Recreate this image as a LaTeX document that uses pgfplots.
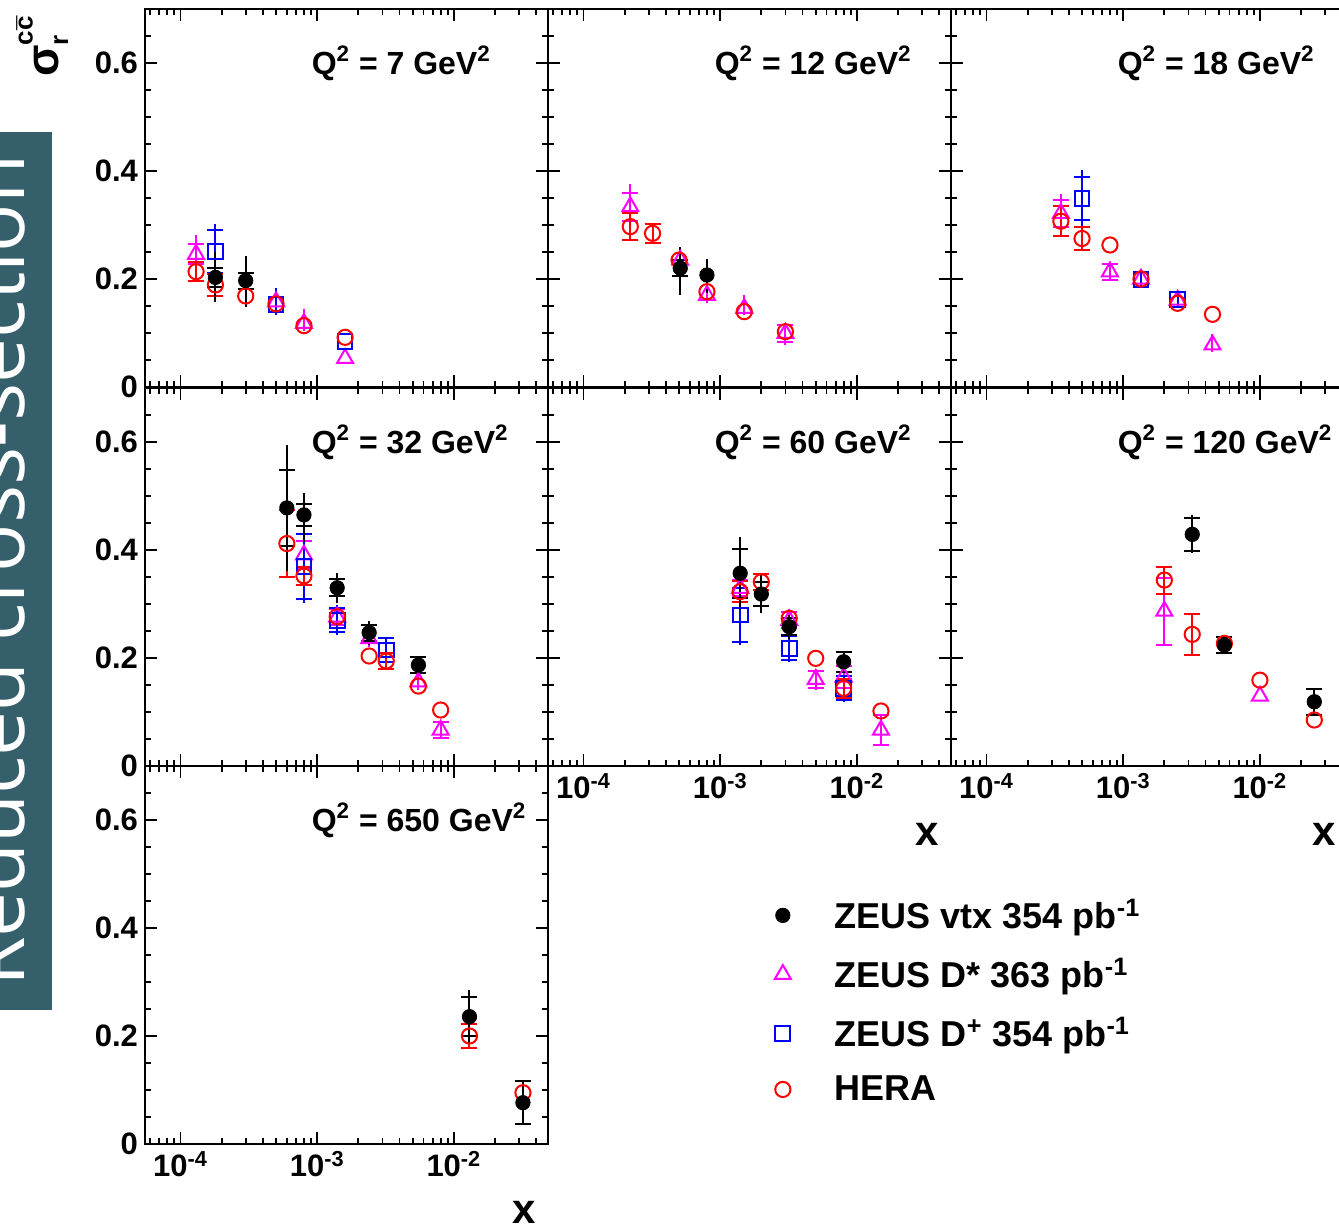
\documentclass[border=0pt]{standalone}
\usepackage{fontspec}
\setmainfont{Liberation Sans}
\newfontfamily\boxfont{Open Sans}
\usepackage{pgfplots}
\usepackage{pgfplotstable}
\pgfplotsset{compat=1.18}
\definecolor{boxteal}{HTML}{365F6C}
\definecolor{dmag}{HTML}{FF00FF}
\definecolor{dblue}{HTML}{0000FF}
\definecolor{hred}{HTML}{FF0000}

% ---------------- data: x  y  total+  total-  stat ----------------
\pgfplotstableread{
x y tp tm s
1.8e-4 0.203 0.047 0.045 0.017
3.0e-4 0.197 0.046 0.048 0.015
}\vtxA
\pgfplotstableread{
x y tp tm s
1.3e-4 0.246 0.035 0.035 0.018
5.0e-4 0.158 0.025 0.020 0.010
8.0e-4 0.118 0.026 0.015 0.010
1.6e-3 0.053 0.012 0.010 0.006
}\dstA
\pgfplotstableread{
x y tp tm s
1.8e-4 0.251 0.051 0.051 0.039
5.0e-4 0.153 0.030 0.020 0.012
1.6e-3 0.084 0.012 0.012 0.008
}\dplA
\pgfplotstableread{
x y tp tm s
1.3e-4 0.2135 0.018 0.018 0.018
1.8e-4 0.189 0.020 0.020 0.020
3.0e-4 0.1685 0.012 0.012 0.012
5.0e-4 0.154 0.010 0.010 0.010
8.0e-4 0.1136 0.008 0.008 0.008
1.6e-3 0.092 0.006 0.006 0.006
}\heraA

\pgfplotstableread{
x y tp tm s
5.1e-4 0.220 0.039 0.050 0.015
8.0e-4 0.2074 0.029 0.034 0.009
}\vtxB
\pgfplotstableread{
x y tp tm s
2.2e-4 0.334 0.042 0.042 0.026
5.1e-4 0.235 0.020 0.020 0.012
8.0e-4 0.170 0.015 0.015 0.008
1.5e-3 0.1457 0.024 0.012 0.010
3.0e-3 0.0994 0.016 0.021 0.016
}\dstB
\pgfplotstableread{
x y tp tm s
2.2e-4 0.297 0.025 0.025 0.025
3.2e-4 0.2846 0.018 0.018 0.018
5.0e-4 0.235 0.012 0.012 0.012
8.0e-4 0.1765 0.010 0.010 0.010
1.5e-3 0.1395 0.008 0.008 0.008
3.0e-3 0.1025 0.008 0.008 0.008
}\heraB

\pgfplotstableread{
x y tp tm s
3.5e-4 0.3216 0.036 0.036 0.025
8.0e-4 0.2136 0.015 0.015 0.015
1.35e-3 0.200 0.015 0.015 0.010
2.5e-3 0.161 0.015 0.015 0.010
4.5e-3 0.078 0.021 0.014 0.014
}\dstC
\pgfplotstableread{
x y tp tm s
5.0e-4 0.349 0.052 0.052 0.040
1.35e-3 0.1994 0.015 0.015 0.008
2.5e-3 0.162 0.015 0.015 0.008
}\dplC
\pgfplotstableread{
x y tp tm s
3.5e-4 0.307 0.028 0.028 0.028
5.0e-4 0.275 0.021 0.021 0.021
8.0e-4 0.263 0.006 0.006 0.006
1.35e-3 0.200 0.006 0.006 0.006
2.5e-3 0.155 0.006 0.006 0.006
4.5e-3 0.1346 0.005 0.005 0.005
}\heraC

\pgfplotstableread{
x y tp tm s
6.0e-4 0.478 0.116 0.116 0.070
8.0e-4 0.465 0.041 0.050 0.020
1.4e-3 0.330 0.028 0.028 0.016
2.4e-3 0.247 0.022 0.022 0.015
5.5e-3 0.187 0.016 0.016 0.015
}\vtxD
\pgfplotstableread{
x y tp tm s
8.0e-4 0.391 0.040 0.040 0.026
1.4e-3 0.276 0.020 0.020 0.015
2.4e-3 0.236 0.015 0.015 0.012
5.5e-3 0.156 0.015 0.015 0.010
8.0e-3 0.0667 0.015 0.015 0.015
}\dstD
\pgfplotstableread{
x y tp tm s
8.0e-4 0.369 0.065 0.068 0.060
1.4e-3 0.270 0.028 0.028 0.022
3.2e-3 0.2148 0.025 0.032 0.022
}\dplD
\pgfplotstableread{
x y tp tm s
6.0e-4 0.412 0.062 0.062 0.062
8.0e-4 0.352 0.016 0.016 0.016
1.4e-3 0.2765 0.012 0.012 0.012
2.4e-3 0.2037 0.008 0.008 0.008
3.2e-3 0.1944 0.015 0.015 0.015
5.5e-3 0.148 0.008 0.008 0.008
8.0e-3 0.1037 0.007 0.007 0.007
}\heraD

\pgfplotstableread{
x y tp tm s
1.4e-3 0.357 0.068 0.068 0.045
2.0e-3 0.3185 0.035 0.035 0.023
3.2e-3 0.258 0.022 0.022 0.016
8.0e-3 0.193 0.020 0.020 0.018
}\vtxE
\pgfplotstableread{
x y tp tm s
1.4e-3 0.329 0.020 0.020 0.015
3.2e-3 0.270 0.020 0.020 0.015
5.0e-3 0.1605 0.020 0.020 0.016
8.0e-3 0.165 0.025 0.025 0.020
1.5e-2 0.0667 0.027 0.027 0.027
}\dstE
\pgfplotstableread{
x y tp tm s
1.4e-3 0.2796 0.050 0.056 0.050
3.2e-3 0.218 0.025 0.025 0.022
8.0e-3 0.1438 0.025 0.025 0.022
}\dplE
\pgfplotstableread{
x y tp tm s
1.4e-3 0.3228 0.019 0.019 0.019
2.0e-3 0.341 0.015 0.015 0.015
3.2e-3 0.2735 0.010 0.010 0.010
5.0e-3 0.1994 0.006 0.006 0.006
8.0e-3 0.1438 0.018 0.018 0.018
1.5e-2 0.1019 0.006 0.006 0.006
}\heraE

\pgfplotstableread{
x y tp tm s
3.2e-3 0.429 0.035 0.035 0.030
5.5e-3 0.224 0.015 0.015 0.015
2.5e-2 0.119 0.025 0.025 0.024
}\vtxF
\pgfplotstableread{
x y tp tm s
2.0e-3 0.287 0.062 0.062 0.062
1.0e-2 0.1296 0.012 0.012 0.012
}\dstF
\pgfplotstableread{
x y tp tm s
2.0e-3 0.3444 0.025 0.025 0.025
3.2e-3 0.2438 0.038 0.038 0.038
5.5e-3 0.227 0.008 0.008 0.008
1.0e-2 0.159 0.006 0.006 0.006
2.5e-2 0.0852 0.005 0.005 0.005
}\heraF

\pgfplotstableread{
x y tp tm s
1.3e-2 0.2358 0.050 0.050 0.036
3.2e-2 0.0765 0.042 0.042 0.040
}\vtxG
\pgfplotstableread{
x y tp tm s
1.3e-2 0.200 0.023 0.023 0.023
3.2e-2 0.095 0.010 0.010 0.010
}\heraG

% ---------------- styles ----------------
\pgfplotsset{
  panel/.style={
    scale only axis, width=201.5pt, height=189pt, anchor=south west,
    xmin=5.5e-5, xmax=0.0488, ymin=0, ymax=0.7,
    xtick={1e-4,1e-3,1e-2},
    minor xtick={6e-5,7e-5,8e-5,9e-5,2e-4,3e-4,4e-4,5e-4,6e-4,7e-4,8e-4,9e-4,2e-3,3e-3,4e-3,5e-3,6e-3,7e-3,8e-3,9e-3,2e-2,3e-2,4e-2},
    ytick={0,0.2,0.4,0.6},
    minor ytick={0.05,0.1,0.15,0.25,0.3,0.35,0.45,0.5,0.55,0.65},
    xticklabels={}, yticklabels={},
    tick align=inside, tick pos=both,
    major tick length=6pt, minor tick length=3pt,
    every tick/.style={black, line width=0.9pt},
    axis line style={line width=1.1pt},
    tick label style={font=\fontsize{15.5}{18}\selectfont\bfseries},
    xlabel style={font=\fontsize{21}{24}\selectfont\bfseries, at={(axis description cs:0.94,-0.18)}, anchor=center},
    clip=false,
  },
  xlab/.style={xticklabels={10\textsuperscript{-4},10\textsuperscript{-3},10\textsuperscript{-2}}, xlabel={x}},
  ylab/.style={yticklabels={0,0.2,0.4,0.6}},
  errtot/.style={only marks, mark=*, mark size=0.1pt, mark options={opacity=0}, forget plot,
    /pgfplots/error bars/y dir=both, /pgfplots/error bars/y explicit,
    /pgfplots/error bars/error mark=none,
    /pgfplots/error bars/error bar style={line width=1pt, color=#1, solid, opacity=1}},
  errcap/.style={only marks, mark=*, mark size=0.1pt, mark options={opacity=0}, forget plot,
    /pgfplots/error bars/y dir=both, /pgfplots/error bars/y explicit,
    /pgfplots/error bars/error bar style={line width=1pt, color=#1, solid, opacity=1},
    /pgfplots/error bars/error mark options={rotate=90, mark size=4pt, line width=1pt, color=#1, opacity=1}},
  vtxm/.style={mark=*, mark size=3.6pt, mark options={fill=black, draw=black, solid}},
  dstm/.style={mark=triangle, mark size=4.6pt, mark options={line width=1pt, solid}},
  dplm/.style={mark=square, mark size=3.7pt, mark options={line width=1pt, solid}},
  heram/.style={mark=o, mark size=3.8pt, mark options={line width=1pt, solid}},
}
\newcommand{\series}[3]{%
  \addplot[errtot=#2, restrict expr to domain={\thisrow{tp}}{0.0145:10}] table[x=x,y=y,y error plus=tp,y error minus=tm]{#1};
  \addplot[errcap=#2, restrict expr to domain={\thisrow{s}}{0.0145:10}] table[x=x,y=y,y error=s]{#1};
  \addplot[#3, only marks, color=#2, forget plot] table[x=x,y=y]{#1};
}
\newcommand{\qtitle}[1]{\node[anchor=west, inner sep=0pt, font=\fontsize{16}{19}\selectfont\bfseries] at (rel axis cs:0.413,0.857) {Q\textsuperscript{2} = #1 GeV\textsuperscript{2}};}

\begin{document}
\begin{tikzpicture}
% side box
\fill[boxteal] (-10pt,-66pt) rectangle (26pt,-505pt);
\node[rotate=90, anchor=base west, inner sep=0pt, text=white, font=\boxfont\fontsize{40}{40}\selectfont] at (12.5pt,-493.5pt) {Reduced cross-section};
% y title
\node[rotate=90, anchor=base west, inner sep=0pt, font=\fontsize{23}{24}\selectfont\bfseries] at (29pt,-38.5pt)
  {σ\rlap{\raisebox{-0.22em}{\fontsize{13}{13}\selectfont r}}\raisebox{0.55em}{\fontsize{13}{13}\selectfont c\ooalign{c\cr\hidewidth\raisebox{-0.12em}{¯}\hidewidth\cr}}};

% ---- Row 1 ----
\begin{semilogxaxis}[panel, ylab, at={(72.5pt,-193.5pt)}]
  \series{\dstA}{dmag}{dstm}
  \series{\dplA}{dblue}{dplm}
  \series{\heraA}{hred}{heram}
  \series{\vtxA}{black}{vtxm}
  \qtitle{7}
\end{semilogxaxis}
\begin{semilogxaxis}[panel, at={(274pt,-193.5pt)}]
  \series{\dstB}{dmag}{dstm}
  \series{\heraB}{hred}{heram}
  \series{\vtxB}{black}{vtxm}
  \qtitle{12}
\end{semilogxaxis}
\begin{semilogxaxis}[panel, at={(475.5pt,-193.5pt)}]
  \series{\dstC}{dmag}{dstm}
  \series{\dplC}{dblue}{dplm}
  \series{\heraC}{hred}{heram}
  \qtitle{18}
\end{semilogxaxis}
% ---- Row 2 ----
\begin{semilogxaxis}[panel, ylab, at={(72.5pt,-383pt)}]
  \series{\dstD}{dmag}{dstm}
  \series{\dplD}{dblue}{dplm}
  \series{\heraD}{hred}{heram}
  \series{\vtxD}{black}{vtxm}
  \qtitle{32}
\end{semilogxaxis}
\begin{semilogxaxis}[panel, xlab, at={(274pt,-383pt)}]
  \series{\dstE}{dmag}{dstm}
  \series{\dplE}{dblue}{dplm}
  \series{\heraE}{hred}{heram}
  \series{\vtxE}{black}{vtxm}
  \qtitle{60}
\end{semilogxaxis}
\begin{semilogxaxis}[panel, xlab, at={(475.5pt,-383pt)}, xlabel style={at={(axis description cs:0.925,-0.18)}}]
  \series{\dstF}{dmag}{dstm}
  \series{\heraF}{hred}{heram}
  \series{\vtxF}{black}{vtxm}
  \qtitle{120}
\end{semilogxaxis}
% ---- Row 3 ----
\begin{semilogxaxis}[panel, ylab, xlab, at={(72.5pt,-572pt)},
  legend style={at={(axis description cs:1.562,0.66)}, anchor=north west, draw=none, fill=none,
    font=\fontsize{18}{21}\selectfont\bfseries, row sep=9pt, column sep=20pt, inner sep=0pt},
  legend cell align=left]
  \series{\heraG}{hred}{heram}
  \series{\vtxG}{black}{vtxm}
  \qtitle{650}
  \addlegendimage{only marks, black, vtxm}
  \addlegendentry{ZEUS vtx 354 pb\textsuperscript{-1}}
  \addlegendimage{only marks, dmag, dstm}
  \addlegendentry{ZEUS D* 363 pb\textsuperscript{-1}}
  \addlegendimage{only marks, dblue, dplm}
  \addlegendentry{ZEUS D\textsuperscript{+} 354 pb\textsuperscript{-1}}
  \addlegendimage{only marks, hred, heram}
  \addlegendentry{HERA}
\end{semilogxaxis}

\pgfresetboundingbox
\useasboundingbox (0pt,0pt) rectangle (669.5pt,-615pt);
\end{tikzpicture}
\end{document}
